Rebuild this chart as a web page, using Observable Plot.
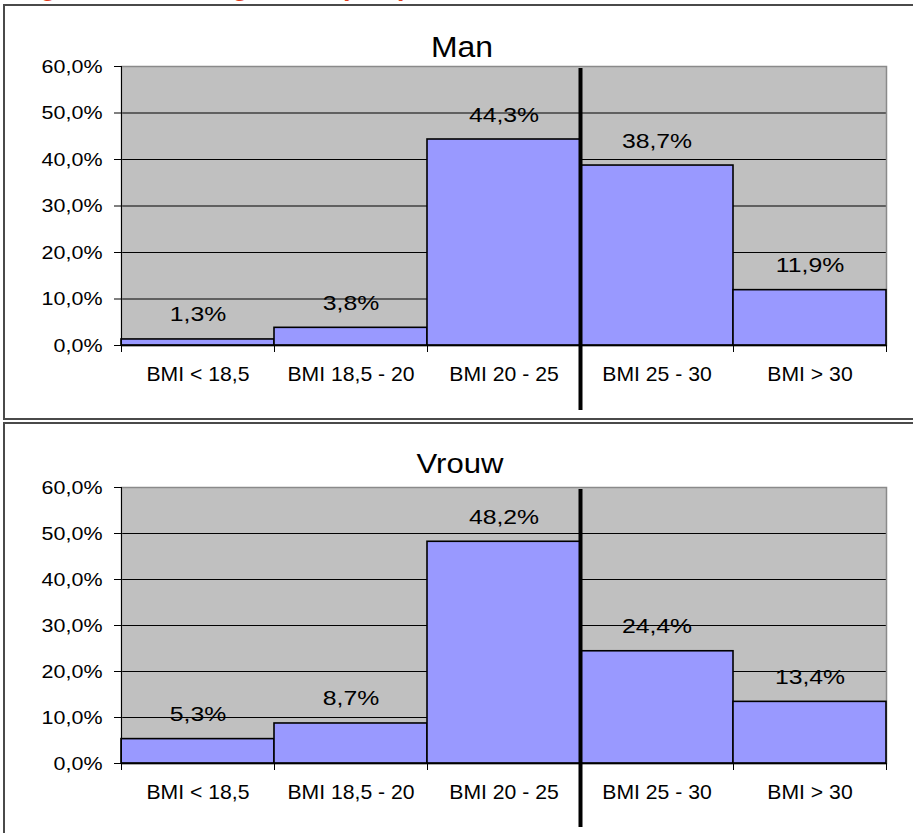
<!DOCTYPE html>
<html>
<head>
<meta charset="utf-8">
<script src="https://cdn.jsdelivr.net/npm/d3@7"></script>
<script src="https://cdn.jsdelivr.net/npm/@observablehq/plot@0.6"></script>
<style>
html, body { margin: 0; padding: 0; background: #fff; }
#page { position: relative; width: 913px; height: 833px; overflow: hidden; font-family: 'Liberation Sans', Arial, sans-serif; }
.heading { position: absolute; left: 16px; top: -27px; font-size: 27px; line-height: 1; font-weight: bold; color: #e23d1c; white-space: nowrap; }
.box { position: absolute; left: 3px; border: 2px solid #4a4a4a; box-sizing: border-box; }
#box1 { top: 4px; height: 416px; width: 940px; }
#box2 { top: 422px; height: 440px; width: 940px; }
.chart { position: absolute; left: 0; }
#chart1 { top: 0; }
#chart2 { top: 420px; }
</style>
</head>
<body>
<div id="page">
  <div class="heading">Figuur: lichaamsgewicht (BMI)</div>
  <div class="box" id="box1"></div>
  <div class="box" id="box2"></div>
  <div class="chart" id="chart1"></div>
  <div class="chart" id="chart2"></div>
</div>
<script>
const categories = ["BMI < 18,5", "BMI 18,5 - 20", "BMI 20 - 25", "BMI 25 - 30", "BMI > 30"];
const manValues = [1.3, 3.8, 44.3, 38.7, 11.9];
const vrouwValues = [5.3, 8.7, 48.2, 24.4, 13.4];
const yTicks = [0, 10, 20, 30, 40, 50, 60];
const gridValues = [10, 20, 30, 40, 50];
const panelTitles = ["Man", "Vrouw"];
const dividerIndex = 3; // boundary between "BMI 20 - 25" and "BMI 25 - 30"

const fmt = v => v.toFixed(1).replace(".", ",") + "%";

// the reference text is horizontally stretched; widen glyphs by font size
const stretchBySize = {"19": 1.13, "20": 1.06, "21": 1.18, "28": 1.11, "29": 1.1};

function panel(container, title, values, opts) {
  const data = categories.map((c, i) => ({c, i, v: values[i]}));
  const boundaries = d3.range(categories.length + 1);
  const svg = Plot.plot({
    width: 913,
    height: opts.height,
    marginLeft: 121,
    marginRight: 27,
    marginTop: opts.marginTop,
    marginBottom: opts.marginBottom,
    style: {fontFamily: "'Liberation Sans', Arial, sans-serif", background: "transparent", overflow: "visible", color: "#000"},
    x: {domain: [0, categories.length], label: null},
    y: {domain: [0, 60], label: null},
    marks: [
      Plot.frame({fill: "#c0c0c0", stroke: null}),
      Plot.gridY(gridValues, {stroke: "#000", strokeOpacity: 1, strokeWidth: 1}),
      Plot.frame({stroke: "#8a8a8a", strokeWidth: 1.5, fill: null}),
      Plot.rectY(data, {x1: "i", x2: d => d.i + 1, y: "v", fill: "#9999ff", stroke: "#000", strokeWidth: 1.6}),
      Plot.ruleX([0], {stroke: "#000", strokeWidth: 1}),
      Plot.ruleY([0], {stroke: "#000", strokeWidth: 1.6}),
      Plot.axisY({ticks: yTicks, tickFormat: fmt, tickSize: 7, tickPadding: 12, fontSize: 19, label: null}),
      Plot.axisX({ticks: boundaries, tickFormat: () => "", tickSize: 7, label: null}),
      Plot.text(data, {x: d => d.i + 0.5, text: "c", frameAnchor: "bottom", lineAnchor: "top", dy: 21, fontSize: 20}),
      Plot.text(data, {x: d => d.i + 0.5, y: "v", text: d => fmt(d.v), lineAnchor: "bottom", dy: -18, fontSize: 21}),
      Plot.ruleX([dividerIndex], {stroke: "#000", strokeWidth: 4, insetTop: 2, insetBottom: opts.dividerExtend}),
      Plot.text([title], {frameAnchor: "top", lineAnchor: "bottom", dx: opts.titleDx, dy: opts.titleDy, fontSize: opts.titleSize})
    ]
  });
  container.append(svg);
  svg.querySelectorAll("g[font-size]").forEach(g => {
    const s = stretchBySize[g.getAttribute("font-size")];
    if (!s) return;
    g.querySelectorAll("text").forEach(t => {
      if (!t.textContent) return;
      const bb = t.getBBox();
      const anchor = getComputedStyle(t).textAnchor;
      const ax = anchor === "end" ? bb.x + bb.width : anchor === "middle" ? bb.x + bb.width / 2 : bb.x;
      const tr = t.getAttribute("transform") || "";
      t.setAttribute("transform", `${tr} translate(${ax},0) scale(${s},1) translate(${-ax},0)`.trim());
    });
  });
}

panel(document.getElementById("chart1"), panelTitles[0], manValues,
  {height: 420, marginTop: 66, marginBottom: 75, dividerExtend: -65, titleDx: -42, titleDy: -10, titleSize: 29});
panel(document.getElementById("chart2"), panelTitles[1], vrouwValues,
  {height: 413, marginTop: 67, marginBottom: 70, dividerExtend: -64, titleDx: -44, titleDy: -15, titleSize: 28});
</script>
</body>
</html>
